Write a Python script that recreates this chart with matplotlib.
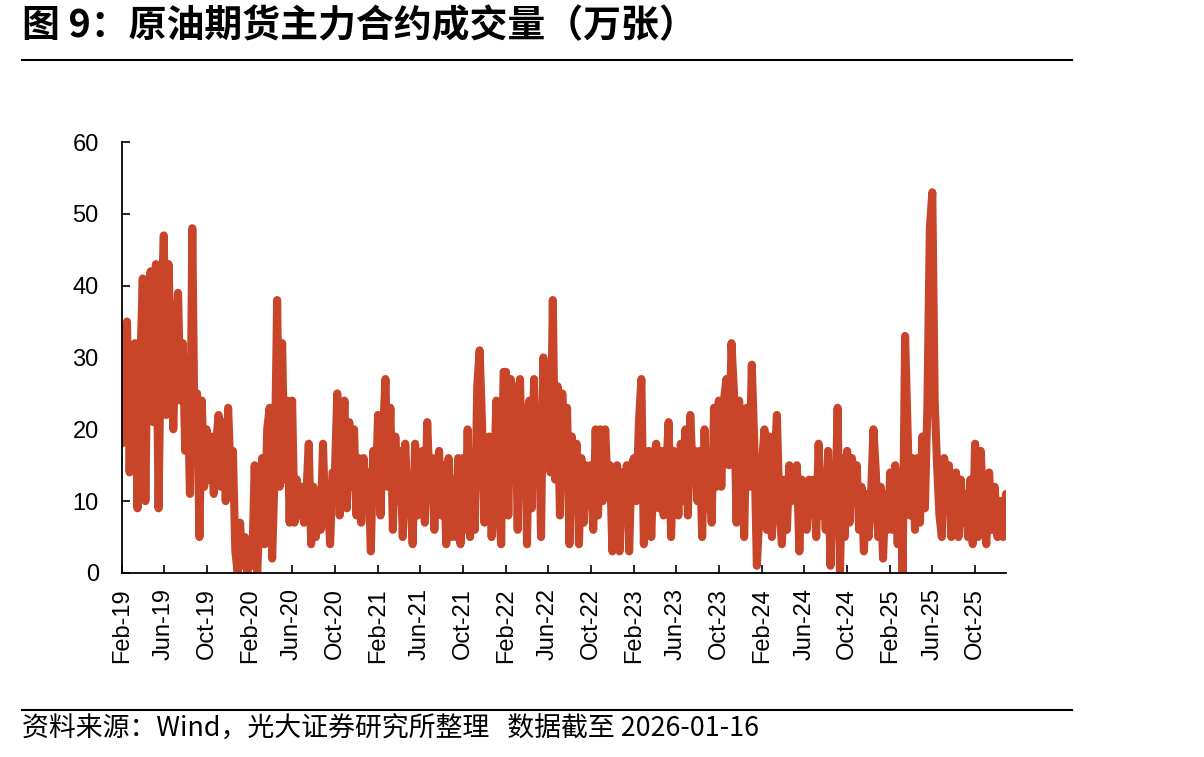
import numpy as np
import pandas as pd
import matplotlib
matplotlib.use("Agg")
import matplotlib.pyplot as plt
import matplotlib.dates as mdates

plt.rcParams['font.family'] = ['Liberation Sans', 'DejaVu Sans']

# tick dates (every 4 months) and last data date
tick_dates = pd.date_range('2019-02-01', '2025-10-01', freq='4MS') + pd.Timedelta(days=19)
end_date = pd.Timestamp('2026-01-16')

# weekly readings of main-contract volume (10k lots), one list per 4-month span
feb19 = [18, 33, 35, 14, 30, 32, 9, 28, 41, 10, 38, 42, 21, 43, 9, 35]
jun19 = [47, 22, 43, 30, 20, 33, 39, 24, 32, 17, 26, 11, 48, 17, 25, 5, 24, 12]
oct19 = [20, 13, 19, 11, 18, 22, 12, 21, 10, 23, 14, 17, 3, 0, 7, 1, 5, 0]
feb20 = [4, 1, 15, 0, 8, 16, 4, 20, 23, 2, 14, 38, 12, 32, 13, 24, 7]
jun20 = [24, 7, 13, 8, 12, 7, 11, 18, 4, 12, 5, 11, 6, 18, 7, 10, 4, 14]
oct20 = [14, 25, 8, 15, 24, 9, 21, 12, 20, 8, 16, 7, 16, 9, 14, 3, 17, 10]
feb21 = [22, 8, 19, 27, 12, 23, 6, 19, 10, 17, 5, 18, 9, 11, 4, 18, 8]
jun21 = [9, 17, 7, 21, 12, 16, 6, 14, 17, 8, 15, 4, 16, 5, 13, 5, 16, 4]
oct21 = [16, 6, 20, 5, 13, 6, 26, 31, 21, 7, 18, 19, 5, 13, 24, 9, 4, 28]
feb22 = [28, 8, 27, 14, 26, 6, 27, 12, 23, 4, 24, 9, 27, 14, 23, 5, 30, 18]
jun22 = [26, 14, 38, 13, 26, 8, 25, 12, 23, 4, 19, 11, 18, 4, 16, 7, 15, 10]
oct22 = [15, 6, 20, 8, 20, 10, 20, 12, 15, 3, 13, 15, 3, 14, 8, 15, 3, 15]
feb23 = [16, 10, 21, 27, 4, 15, 17, 5, 16, 18, 9, 17, 8, 14, 21, 5, 17]
jun23 = [14, 8, 18, 10, 20, 8, 22, 14, 17, 10, 17, 5, 20, 9, 15, 7, 23, 12]
oct23 = [24, 12, 24, 27, 15, 32, 25, 7, 24, 19, 5, 23, 12, 29, 18, 1, 8]
feb24 = [15, 20, 6, 19, 5, 15, 22, 9, 4, 13, 6, 15, 10, 13, 15, 3, 13]
jun24 = [12, 6, 13, 9, 13, 5, 18, 8, 14, 6, 17, 1, 12, 8, 23, 0, 16, 5]
oct24 = [17, 7, 16, 12, 15, 6, 12, 3, 11, 5, 11, 20, 14, 5, 12, 2, 11, 6]
feb25 = [14, 6, 15, 4, 14, 0, 33, 20, 8, 16, 6, 16, 7, 19, 9, 23, 48]
jun25 = [53, 24, 15, 8, 5, 16, 10, 15, 5, 13, 14, 5, 13, 7, 11, 5, 13, 4]
oct25 = [18, 5, 17, 8, 4, 14, 6, 12, 5, 10, 5, 11]

spans = [feb19, jun19, oct19, feb20, jun20, oct20, feb21, jun21, oct21, feb22, jun22,
         oct22, feb23, jun23, oct23, feb24, jun24, oct24, feb25, jun25, oct25]
bounds = list(tick_dates) + [end_date]

dates, values = [], []
for i, vals in enumerate(spans):
    start, stop = bounds[i], bounds[i + 1]
    n = len(vals)
    last = i == len(spans) - 1
    step = (stop - start) / ((n - 1) if last else n)
    dates += [start + step * k for k in range(n)]
    values += vals

fig = plt.figure(figsize=(12.04, 7.57), dpi=100)
ax = fig.add_axes([0.1011, 0.2431, 0.7344, 0.5693])

ax.plot(dates, values, color='#C8452A', lw=5.8,
        solid_joinstyle='round', solid_capstyle='round')

ax.set_ylim(0, 60)
ax.set_yticks(range(0, 61, 10))
ax.set_xlim(bounds[0], end_date)
ax.set_xticks(tick_dates)
ax.xaxis.set_major_formatter(mdates.DateFormatter('%b-%y'))
plt.setp(ax.get_xticklabels(), rotation=90)

for s in ['top', 'right']:
    ax.spines[s].set_visible(False)
for s in ['left', 'bottom']:
    ax.spines[s].set_linewidth(1.3)
ax.tick_params(axis='both', direction='in', length=5.5, width=1.2, labelsize=17)
ax.tick_params(axis='y', pad=16.5)
ax.tick_params(axis='x', pad=11)

cjk = ['Noto Sans CJK SC', 'DejaVu Sans']
fig.text(0.0183, 0.9657, '图 9：原油期货主力合约成交量（万张）', family=cjk,
         fontsize=27.3, fontweight='bold', va='center', ha='left')
fig.add_artist(plt.Line2D([0.0183, 0.8904], [0.9207, 0.9207], color='black', lw=1.5))
fig.add_artist(plt.Line2D([0.0183, 0.8904], [0.0621, 0.0621], color='black', lw=1.5))
fig.text(0.0183, 0.0383, '资料来源：Wind，光大证券研究所整理   数据截至 2026-01-16', family=cjk,
         fontsize=19.4, va='center', ha='left')

fig.savefig('out.png', dpi=100)
